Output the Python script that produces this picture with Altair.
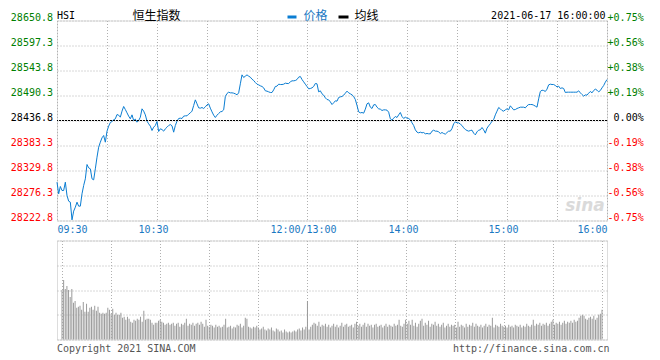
import altair as alt
import pandas as pd

PREV_CLOSE = 28436.8
Y_DOMAIN = [28222.8, 28650.8]

# --- price per minute (09:30 -> 16:00, lunch break removed) ---
price_rows = [
    [28304.8, 28279.9, 28295.6, 28287.0, 28287.0, 28304.8, 28276.3, 28264.2, 28262.0, 28224.2,
     28242.8, 28251.3, 28262.0, 28253.5, 28253.5, 28279.9, 28297.7, 28312.0, 28342.6, 28335.5,
     28333.4, 28312.0, 28309.8, 28333.4, 28358.3, 28379.7, 28390.4, 28399.7, 28404.7, 28390.4],
    [28414.0, 28424.7, 28432.5, 28434.7, 28438.2, 28440.4, 28449.6, 28448.2, 28443.9, 28456.8,
     28466.8, 28460.3, 28453.2, 28446.1, 28440.4, 28448.9, 28436.8, 28439.7, 28433.2, 28436.8,
     28443.9, 28461.8, 28456.8, 28448.9, 28435.4, 28429.7, 28424.7, 28415.4, 28422.5, 28426.1],
    [28434.7, 28413.3, 28419.0, 28417.5, 28414.0, 28419.0, 28422.5, 28426.1, 28428.2, 28425.4,
     28411.8, 28426.1, 28435.4, 28441.1, 28441.8, 28441.1, 28446.1, 28446.8, 28446.8, 28450.4,
     28453.2, 28456.8, 28468.9, 28481.0, 28472.5, 28463.9, 28463.2, 28464.6, 28462.5, 28466.0],
    [28470.3, 28472.5, 28463.2, 28455.3, 28448.2, 28443.2, 28448.2, 28451.8, 28455.3, 28456.1,
     28459.6, 28488.2, 28494.6, 28497.4, 28496.0, 28496.0, 28495.3, 28493.9, 28491.7, 28496.0,
     28515.3, 28534.5, 28528.8, 28531.7, 28534.5, 28531.7, 28529.5, 28525.2, 28522.4, 28518.1],
    [28514.5, 28513.1, 28511.0, 28509.6, 28506.7, 28500.3, 28499.6, 28498.1, 28496.7, 28496.7,
     28502.4, 28509.6, 28510.3, 28514.5, 28513.8, 28513.8, 28514.5, 28516.7, 28516.0, 28516.0,
     28519.5, 28521.7, 28521.7, 28522.4, 28524.5, 28529.5, 28531.0, 28524.5, 28519.5, 28514.5],
    [28509.6, 28504.6, 28505.3, 28506.7, 28509.6, 28516.0, 28515.3, 28498.1, 28500.3, 28493.9,
     28491.0, 28485.3, 28481.7, 28481.0, 28476.7, 28471.0, 28474.6, 28478.9, 28478.2, 28486.0,
     28487.4, 28488.2, 28491.0, 28495.3, 28499.6, 28496.0, 28493.9, 28491.7, 28488.2, 28481.7],
    [28468.9, 28455.3, 28453.2, 28453.9, 28452.5, 28461.1, 28472.5, 28474.6, 28465.3, 28462.5,
     28470.3, 28471.0, 28465.3, 28461.8, 28461.1, 28458.2, 28459.6, 28459.6, 28458.9, 28454.6,
     28440.4, 28437.5, 28441.8, 28445.4, 28443.2, 28448.9, 28453.9, 28445.4, 28441.1, 28443.9],
    [28441.8, 28441.1, 28438.2, 28431.8, 28426.1, 28416.8, 28411.8, 28410.4, 28411.8, 28410.4,
     28411.1, 28408.3, 28409.0, 28408.3, 28408.3, 28414.0, 28416.1, 28414.0, 28414.0, 28412.5,
     28409.0, 28411.1, 28409.0, 28407.6, 28411.1, 28414.0, 28414.0, 28419.7, 28429.7, 28433.9],
    [28431.8, 28431.8, 28429.0, 28426.1, 28421.1, 28417.5, 28415.4, 28414.0, 28415.4, 28416.1,
     28409.7, 28406.1, 28412.5, 28416.1, 28416.8, 28421.8, 28416.8, 28409.7, 28420.4, 28425.4,
     28429.7, 28435.4, 28438.9, 28448.9, 28456.8, 28464.6, 28461.8, 28458.2, 28456.8, 28459.6],
    [28461.8, 28459.6, 28468.2, 28463.9, 28459.6, 28460.3, 28462.5, 28463.9, 28465.3, 28465.3,
     28465.3, 28463.9, 28468.2, 28471.0, 28471.0, 28471.0, 28469.6, 28467.5, 28465.3, 28483.2,
     28498.9, 28501.7, 28501.0, 28498.9, 28503.9, 28513.1, 28514.5, 28513.8, 28513.8, 28511.7],
    [28508.8, 28510.3, 28505.3, 28506.7, 28505.3, 28496.7, 28497.4, 28497.4, 28497.4, 28497.4,
     28497.4, 28497.4, 28497.4, 28500.3, 28496.0, 28492.4, 28488.9, 28491.7, 28491.0, 28495.3,
     28498.9, 28496.0, 28501.0, 28503.9, 28501.7, 28498.1, 28501.0, 28506.7, 28511.7, 28518.8,
     28524.5],
]

# --- volume per minute (relative units, panel top = 100) ---
volume_rows = [
    [50, 60, 51, 54, 50, 43, 51, 37, 39, 32, 33, 34, 30, 38, 28, 36, 28, 32, 33, 30, 34, 29, 33, 27, 26, 27, 26, 27, 32, 30],
    [26, 31, 25, 27, 25, 25, 27, 22, 23, 20, 23, 21, 18, 17, 20, 19, 21, 20, 23, 18, 29, 20, 21, 21, 20, 17, 15, 17, 17, 19],
    [20, 18, 17, 15, 16, 17, 15, 16, 17, 14, 16, 17, 13, 16, 15, 17, 21, 14, 16, 15, 17, 14, 16, 17, 15, 18, 16, 13, 20, 14],
    [13, 15, 14, 12, 15, 13, 14, 12, 13, 15, 21, 12, 13, 14, 11, 13, 12, 15, 14, 16, 12, 14, 22, 21, 13, 12, 11, 13, 12, 14],
    [12, 10, 11, 13, 10, 9, 11, 10, 12, 9, 8, 11, 10, 8, 9, 7, 10, 8, 7, 8, 7, 8, 9, 8, 10, 11, 9, 12, 10, 13],
    [39, 10, 13, 15, 17, 16, 14, 18, 13, 15, 14, 16, 13, 15, 12, 14, 16, 13, 15, 12, 14, 17, 13, 15, 16, 13, 14, 15, 12, 16],
    [18, 14, 16, 13, 15, 17, 13, 16, 14, 15, 12, 15, 16, 13, 14, 15, 12, 14, 16, 13, 15, 14, 13, 16, 14, 15, 20, 14, 13, 16],
    [20, 16, 19, 15, 20, 14, 17, 13, 16, 19, 21, 14, 17, 15, 19, 13, 16, 15, 18, 14, 16, 13, 15, 17, 12, 14, 16, 13, 15, 14],
    [15, 12, 18, 13, 15, 14, 12, 16, 13, 15, 14, 17, 13, 16, 14, 13, 15, 12, 14, 16, 13, 15, 14, 22, 12, 15, 14, 13, 16, 14],
    [13, 14, 12, 15, 13, 14, 12, 15, 14, 13, 15, 12, 14, 13, 16, 14, 13, 15, 20, 14, 16, 15, 17, 14, 16, 15, 17, 14, 16, 18],
    [20, 15, 17, 16, 18, 15, 17, 19, 16, 18, 17, 19, 17, 20, 18, 19, 22, 24, 25, 24, 21, 20, 22, 23, 21, 24, 20, 22, 25, 26, 30],
]

prices = [p for row in price_rows for p in row]
volumes = [v for row in volume_rows for v in row]
minutes = list(range(len(prices)))

# axis ticks / labels
grid_minutes = [0, 30, 60, 90, 120, 150, 180, 210, 240, 270, 300, 330]
time_tick_minutes = [0, 60, 150, 210, 270, 330]
time_tick_labels = ["09:30", "10:30", "12:00/13:00", "14:00", "15:00", "16:00"]
y_ticks = [28222.8, 28276.3, 28329.8, 28383.3, 28436.8, 28490.3, 28543.8, 28597.3, 28650.8]
pct_labels = ["-0.75%", "-0.56%", "-0.38%", "-0.19%", "0.00%", "+0.19%", "+0.38%", "+0.56%", "+0.75%"]

MONO = "DejaVu Sans Mono"
CJK = "DejaVu Sans, Noto Sans CJK SC"
GREEN = "#008000"
RED = "#ff0000"
LINE = "#0a7dd2"
BLUE_TXT = "#1a78c2"
GRID = "#b0b0b0"
BORDER = "#999999"
BAR = "#9a9a9a"

df = pd.DataFrame({"minute": minutes, "price": prices})
vdf = pd.DataFrame({"minute": minutes[:len(volumes)], "volume": volumes})

time_expr = "".join(
    f"datum.value == {m} ? '{lab}' : " for m, lab in zip(time_tick_minutes, time_tick_labels)
) + "''"
pct_expr = "[" + ",".join(f"'{s}'" for s in pct_labels) + f"][round((datum.value - {y_ticks[0]}) / {y_ticks[1] - y_ticks[0]:.1f})]"

label_color = {
    "condition": [
        {"test": f"datum.value > {PREV_CLOSE + 1}", "value": GREEN},
        {"test": f"datum.value < {PREV_CLOSE - 1}", "value": RED},
    ],
    "value": "black",
}

xscale = alt.Scale(domain=[0, 330], nice=False, zero=False)
yscale = alt.Scale(domain=Y_DOMAIN, nice=False, zero=False)

x_main = alt.X(
    "minute:Q", scale=xscale,
    axis=alt.Axis(values=grid_minutes, labelExpr=time_expr, title=None, grid=True,
                  gridColor=GRID, gridDash=[1, 2], domain=False, ticks=False, tickSize=0,
                  labelColor=BLUE_TXT, labelFont=MONO, labelFontSize=10, labelPadding=4,
                  labelBaseline="top", labelFlush=True, labelOverlap=False,
                  labelOffset={"condition": {"test": "datum.value > 0 && datum.value < 330", "value": -4}, "value": 0}),
)

line = alt.Chart(df).mark_line(color=LINE, strokeWidth=1).encode(
    x=x_main,
    y=alt.Y("price:Q", scale=yscale,
            axis=alt.Axis(orient="left", values=y_ticks, labelExpr="format(datum.value, '.1f')",
                          title=None, grid=True, gridColor=GRID, gridDash=[1, 2], domain=False,
                          ticks=False, tickSize=0, labelColor=label_color, labelFont=MONO,
                          labelFontSize=10, labelPadding=4.5, labelBaseline="alphabetic",
                          labelFlush=False, labelOverlap=False)),
)

prev_df = pd.DataFrame({"prev": [PREV_CLOSE]})
rule = alt.Chart(prev_df).mark_rule(color="black", strokeDash=[2, 1], strokeWidth=1).encode(
    y=alt.Y("prev:Q", scale=yscale,
            axis=alt.Axis(orient="right", values=y_ticks, labelExpr=pct_expr, title=None,
                          grid=False, domain=False, ticks=False, tickSize=0,
                          labelColor=label_color, labelFont=MONO, labelFontSize=10,
                          labelAlign="right", labelPadding=36.2, labelBaseline="alphabetic",
                          labelFlush=False, labelOverlap=False)),
)


def txt(text, x, y, color="black", font=MONO, size=10, align="left", baseline="middle", **kw):
    return alt.Chart(pd.DataFrame({"t": [text]})).mark_text(
        align=align, baseline=baseline, font=font, fontSize=size, color=color, **kw
    ).encode(x=alt.value(x), y=alt.value(y), text="t:N")


def dash(x1, x2, y, color):
    return alt.Chart(pd.DataFrame({"a": [0]})).mark_rule(color=color, strokeWidth=3).encode(
        x=alt.value(x1), x2=alt.value(x2), y=alt.value(y))


HY = -4.5  # header row centre, relative to plot top
header = [
    txt("HSI", 0, HY),
    txt("恒生指数", 75.5, HY, font=CJK, size=12),
    dash(230.5, 239.5, HY + 1, LINE),
    txt("价格", 246.5, HY, color=BLUE_TXT, font=CJK, size=12),
    dash(281.5, 291.5, HY + 1, "black"),
    txt("均线", 297.5, HY, font=CJK, size=12),
    txt("2021-06-17 16:00:00", 548.5, HY, align="right"),
    txt("sina", 528, 185, color="#d2d2d2", font="DejaVu Sans", size=17, align="center",
        fontStyle="italic", fontWeight="bold", opacity=0.8),
]

main = alt.layer(line, rule, *header).resolve_scale(y="independent").properties(width=550, height=200)

bars = alt.Chart(vdf).mark_bar(color=BAR, width=1).encode(
    x=alt.X("minute:Q", scale=xscale,
            axis=alt.Axis(values=grid_minutes, labels=False, ticks=False, domain=False, grid=True,
                          gridColor=GRID, gridDash=[1, 2], title=None)),
    y=alt.Y("volume:Q", scale=alt.Scale(domain=[0, 100], nice=False),
            axis=alt.Axis(values=[0, 25, 50, 75, 100], labels=False, ticks=False, domain=False,
                          grid=True, gridColor=GRID, gridDash=[1, 2], title=None)),
)

footer = [
    txt("Copyright 2021 SINA.COM", 0, 111, color="#555555", baseline="alphabetic"),
    txt("http://finance.sina.com.cn", 552.5, 111, color="#555555", align="right", baseline="alphabetic"),
]

vol = alt.layer(bars, *footer).properties(width=550, height=99)

chart = alt.vconcat(main, vol, spacing=4).properties(
    padding={"left": 1, "top": 1.5, "right": 5, "bottom": 0}
).configure_view(stroke=BORDER, strokeWidth=1).configure(background="white")

chart.save("out.html", embed_options={"renderer": "svg", "actions": False})
